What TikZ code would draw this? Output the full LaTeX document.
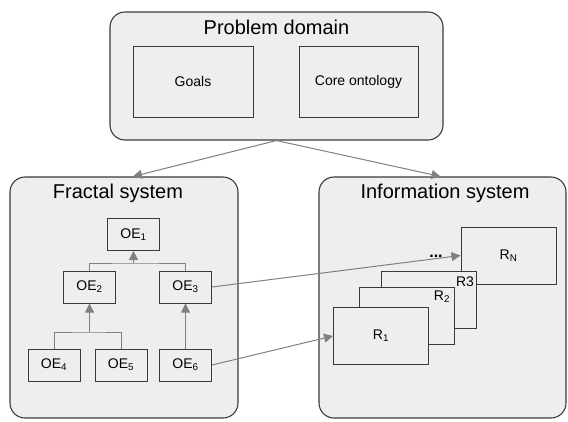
\documentclass[tikz,border=0pt]{standalone}
\usepackage{fontspec}
\setmainfont{Liberation Sans}
\usetikzlibrary{arrows.meta}
\definecolor{boxfill}{HTML}{EEEEEE}
\definecolor{boxline}{HTML}{3A3A3A}
\definecolor{arrowgray}{HTML}{808080}
\tikzset{
  bigbox/.style={draw=boxline,fill=boxfill,rounded corners=15pt,line width=1.1pt},
  title/.style={font=\fontsize{20}{22}\selectfont},
  inbox/.style={draw=boxline,fill=boxfill,line width=1pt,font=\fontsize{14}{16}\selectfont},
  oebox/.style={inbox,minimum width=52pt,minimum height=32pt},
  rbox/.style={inbox,minimum width=95pt,minimum height=57pt},
  link/.style={draw=arrowgray,line width=1pt,-{Triangle[width=9pt,length=9pt]}},
  tree/.style={draw=arrowgray,line width=1pt}
}
\begin{document}
\begin{tikzpicture}[x=1pt,y=-1pt]
\useasboundingbox (0,0) rectangle (568,421);

% the three big areas
\node [bigbox,minimum width=333pt,minimum height=128pt] (pd) at (276.5,76) {};
\node [bigbox,minimum width=228pt,minimum height=241pt] (fs) at (124,297.5) {};
\node [bigbox,minimum width=247pt,minimum height=241pt] (is) at (442.5,297.5) {};
\node [title] (pdt) at (276.5,27) {Problem domain};
\node [title] (fst) at (118,193) {Fractal system};
\node [title] (ist) at (445,193) {Information system};

% problem domain
\node [inbox,minimum width=120pt,minimum height=71pt] (goals) at (193,81.5) {Goals};
\node [inbox,minimum width=119pt,minimum height=71pt] (core) at (358.5,81.5) {Core ontology};

\draw [link] (pd.south) -- ([xshift=9pt]fs.north);
\draw [link] (pd.south) -- ([xshift=-2pt]is.north);

% fractal system
\node [oebox] (oe1) at (133.5,234.5) {OE\textsubscript{1}};
\node [oebox] (oe2) at (89.5,287) {OE\textsubscript{2}};
\node [oebox] (oe3) at (185.5,287) {OE\textsubscript{3}};
\node [oebox] (oe4) at (54,365) {OE\textsubscript{4}};
\node [oebox] (oe5) at (121,365) {OE\textsubscript{5}};
\node [oebox] (oe6) at (185.5,365) {OE\textsubscript{6}};

\coordinate (bar1) at (133.5,263);
\coordinate (bar2) at (89.5,332);
\draw [tree] (oe2.north) |- (bar1) -| (oe3.north);
\draw [link] (bar1) -- (oe1.south);
\draw [tree] (oe4.north) |- (bar2) -| (oe5.north);
\draw [link] (bar2) -- (oe2.south);
\draw [link] (oe6.north) -- (oe3.south);

% information system
\node [rbox] (rn) at (508.5,255.5) {R\textsubscript{N}};
\node [rbox] (r3) at (428.5,300) {};
\node [inbox,draw=none,fill=none,anchor=north east,inner sep=1pt] (r3l) at ([xshift=-1pt,yshift=-4pt]r3.north east) {R3};
\node [rbox] (r2) at (406.5,315.5) {};
\node [inbox,draw=none,fill=none,anchor=north east,inner sep=1pt] (r2l) at ([xshift=-3pt,yshift=-3pt]r2.north east) {R\textsubscript{2}};
\node [rbox] (r1) at (381,336) {R\textsubscript{1}};
\node [font=\fontsize{16}{16}\selectfont\bfseries] (dots) at (436,256) {...};

\draw [link] (oe3.east) -- (rn.west);
\draw [link] (oe6.east) -- (r1.west);

\end{tikzpicture}
\end{document}
